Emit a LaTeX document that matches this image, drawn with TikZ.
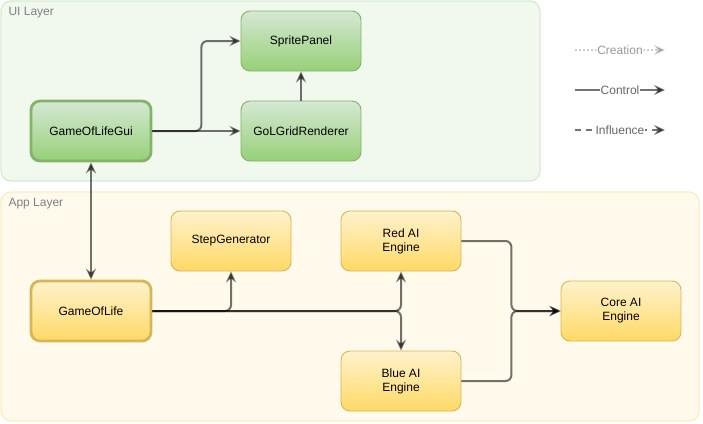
\documentclass[tikz,border=0pt]{standalone}
\usepackage{fontspec}
\setmainfont{Liberation Sans}
\usepackage{tikz}
\usetikzlibrary{arrows.meta}
\usetikzlibrary{positioning}
\definecolor{uifill}{HTML}{F1F8EE}
\definecolor{uiline}{HTML}{D8EAD2}
\definecolor{appfill}{HTML}{FFFAEB}
\definecolor{appline}{HTML}{FBEDC6}
\definecolor{greentop}{HTML}{D5E8D4}
\definecolor{greenbot}{HTML}{97D077}
\definecolor{greenline}{HTML}{82B366}
\definecolor{yellowtop}{HTML}{FFF2CC}
\definecolor{yellowbot}{HTML}{FFD966}
\definecolor{yellowline}{HTML}{D6B656}
\tikzstyle{layer}=[rectangle,rounded corners=10,line width=1.3]
\tikzstyle{layertext}=[anchor=north west,text=black!50,font=\fontsize{12}{14}\selectfont,inner sep=0]
\tikzstyle{box}=[rectangle,rounded corners=9,minimum width=120,minimum height=60,align=center,
  font=\fontsize{12}{14}\selectfont,line width=0.9]
\tikzstyle{greenbox}=[box,draw=greenline,top color=greentop,bottom color=greenbot]
\tikzstyle{yellowbox}=[box,draw=yellowline,top color=yellowtop,bottom color=yellowbot]
\tikzstyle{ctrl}=[-{Stealth[length=11,width=10,inset=4]},draw=black,opacity=0.55,line width=2,rounded corners=6]
\tikzstyle{legendtext}=[fill=white,inner sep=1,opacity=1,font=\fontsize{12}{14}\selectfont]
\tikzset{every picture/.style={x=1pt,y=-1pt}}
\begin{document}
\begin{tikzpicture}
  \useasboundingbox (0,0) rectangle (703,423);
  \node[layer,draw=uiline,fill=uifill,minimum width=539,minimum height=180] (ui) at (270.5,91) {};
  \node[layertext] at ([shift={(8,7)}]ui.north west) {UI Layer};
  \node[layer,draw=appline,fill=appfill,minimum width=698,minimum height=229] (app) at (350,306.5) {};
  \node[layertext] at ([shift={(8,7)}]app.north west) {App Layer};

  \node[greenbox] (sprite) at (301,41) {SpritePanel};
  \node[greenbox] (grid) at (301,131) {GoLGridRenderer};
  \node[greenbox,line width=2.8] (gui) at (91,131) {GameOfLifeGui};
  \node[yellowbox] (stepgen) at (231,241) {StepGenerator};
  \node[yellowbox,line width=2.8] (gol) at (91,311) {GameOfLife};
  \node[yellowbox] (red) at (401,241) {Red AI\\Engine};
  \node[yellowbox] (blue) at (401,381) {Blue AI\\Engine};
  \node[yellowbox] (core) at (621,311) {Core AI\\Engine};

  \draw[ctrl] (gui.east) -- ++(49,0) |- (sprite.west);
  \draw[ctrl] (gui.east) -- (grid.west);
  \draw[ctrl] (grid.north) -- (sprite.south);
  \draw[ctrl,{Stealth[length=11,width=10,inset=4]}-{Stealth[length=11,width=10,inset=4]}] (gui.south) -- (gol.north);
  \draw[ctrl] (gol.east) -| (stepgen.south);
  \draw[ctrl] (gol.east) -| (red.south);
  \draw[ctrl] (gol.east) -| (blue.north);
  \draw[ctrl] (red.east) -- ++(50,0) |- (core.west);
  \draw[ctrl] (blue.east) -- ++(50,0) |- (core.west);

  \coordinate (cre1) at (575,50);
  \coordinate (cre2) at (665,50);
  \coordinate (con1) at (575,90);
  \coordinate (con2) at (665,90);
  \coordinate (inf1) at (575,130);
  \coordinate (inf2) at (665,130);
  \draw[ctrl,opacity=0.2,dash pattern=on 1.5 off 2.5] (cre1) -- node[legendtext,text=black!40] {Creation} (cre2);
  \draw[ctrl,rounded corners=0] (con1) -- node[legendtext,text=black!60] {Control} (con2);
  \draw[ctrl,rounded corners=0,dash pattern=on 6 off 5] (inf1) -- node[legendtext,text=black!60] {Influence} (inf2);
\end{tikzpicture}
\end{document}
